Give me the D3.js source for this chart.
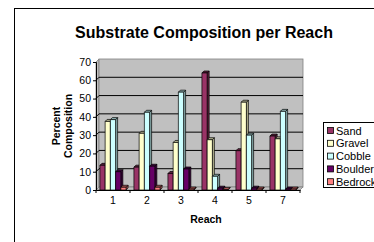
<!DOCTYPE html>
<html><head><meta charset="utf-8">
<script src="https://cdn.jsdelivr.net/npm/d3@7"></script>
<style>body{margin:0;background:#fff}svg{display:block;font-family:"Liberation Sans",Arial,sans-serif}</style>
</head><body><svg id="c" width="374" height="242"></svg>
<script>
const categories = ["1","2","3","4","5","7"];
const seriesNames = ["Sand","Gravel","Cobble","Boulder","Bedrock"];
const sand = [13.5,12.5,9,64,21.5,29.5];
const gravel = [37.5,31,26,27.5,48,28];
const cobble = [38.5,42.5,53.5,7.5,30,43];
const boulder = [10,13,11.5,1,1,0.5];
const bedrock = [1.5,1.5,0.5,0.3,0.5,0.5];
const yTicks = [0,10,20,30,40,50,60,70];
const colors = ["#993366","#FFFFCC","#CCFFFF","#660066","#FF8080"];
const sideColors = ["#5c1f3d","#b3b38f","#8fb3b3","#3d003d","#b35a5a"];
const values = [sand,gravel,cobble,boulder,bedrock];

const svg = d3.select("#c");
const x0 = 96, x1 = 300, yTop = 62, yBot = 190, wd = 3, bd = 2;
const x = d3.scaleBand().domain(categories).range([x0,x1]);
const xs = d3.scaleBand().domain(seriesNames).range([0,x.bandwidth()]).paddingInner(0).paddingOuter(0.75);
const y = d3.scaleLinear().domain([0,70]).range([yBot,yTop]);

// border
svg.append("rect").attr("x",14.5).attr("y",8.5).attr("width",400).attr("height",300)
  .attr("fill","none").attr("stroke","#000");

// walls
svg.append("polygon").attr("points",[[x0,yTop],[x0+wd,yTop-wd],[x0+wd,yBot-wd],[x0,yBot]].join(" "))
  .attr("fill","#c0c0c0").attr("stroke","#808080").attr("stroke-width",0.8);
svg.append("rect").attr("x",x0+wd).attr("y",yTop-wd).attr("width",x1-x0).attr("height",yBot-yTop)
  .attr("fill","#c0c0c0").attr("stroke","#808080").attr("stroke-width",0.8);
svg.append("polygon").attr("points",[[x0,yBot],[x1,yBot],[x1+wd,yBot-wd],[x0+wd,yBot-wd]].join(" "))
  .attr("fill","#c0c0c0").attr("stroke","#808080").attr("stroke-width",0.8);

// gridlines
yTicks.filter(v=>v>0 && v<70).forEach(v=>{
  svg.append("line").attr("x1",x0+wd).attr("x2",x1+wd).attr("y1",y(v)-wd).attr("y2",y(v)-wd).attr("stroke","#000").attr("stroke-width",1);
  svg.append("line").attr("x1",x0).attr("x2",x0+wd).attr("y1",y(v)).attr("y2",y(v)-wd).attr("stroke","#000").attr("stroke-width",1);
});

// bars
categories.forEach((c,ci)=>{
  seriesNames.forEach((s,si)=>{
    const v = values[si][ci];
    const bx = x(c)+xs(s), w = xs.bandwidth(), ty = y(v), by = y(0);
    const g = svg.append("g").attr("stroke","#000").attr("stroke-width",0.7).attr("stroke-linejoin","round");
    g.append("polygon").attr("points",[[bx+w,ty],[bx+w+bd,ty-bd],[bx+w+bd,by-bd],[bx+w,by]].join(" ")).attr("fill",sideColors[si]);
    g.append("polygon").attr("points",[[bx,ty],[bx+bd,ty-bd],[bx+w+bd,ty-bd],[bx+w,ty]].join(" ")).attr("fill",sideColors[si]);
    g.append("rect").attr("x",bx).attr("y",ty).attr("width",w).attr("height",by-ty).attr("fill",colors[si]);
  });
});

// y axis
const ya = svg.append("g").attr("transform",`translate(${x0},0)`)
  .call(d3.axisLeft(y).tickValues(yTicks).tickSize(3).tickPadding(2));
ya.select(".domain").attr("stroke","#000");
ya.selectAll("text").attr("font-size",10.5).attr("fill","#000").attr("font-family","Liberation Sans, Arial, sans-serif");
// x axis
const xa = svg.append("g").attr("transform",`translate(0,${yBot})`)
  .call(d3.axisBottom(x).tickSize(0).tickPadding(7));
xa.select(".domain").attr("stroke","#000");
xa.selectAll("text").attr("font-size",10.5).attr("fill","#000").attr("font-family","Liberation Sans, Arial, sans-serif");
categories.forEach(c=>{
  const bx = x(c)+x.bandwidth();
  svg.append("line").attr("x1",bx).attr("x2",bx).attr("y1",yBot).attr("y2",yBot+3).attr("stroke","#000");
});
svg.append("line").attr("x1",x0).attr("x2",x0).attr("y1",yBot).attr("y2",yBot+3).attr("stroke","#000");

// titles
svg.append("text").attr("x",204).attr("y",38).attr("text-anchor","middle").attr("font-weight","bold").attr("font-size",16).text("Substrate Composition per Reach");
svg.append("text").attr("x",206).attr("y",223).attr("text-anchor","middle").attr("font-weight","bold").attr("font-size",10.5).text("Reach");
const yt = svg.append("text").attr("transform","translate(60,126) rotate(-90)").attr("text-anchor","middle").attr("font-weight","bold").attr("font-size",10.5);
yt.append("tspan").attr("x",0).attr("y",0).text("Percent");
yt.append("tspan").attr("x",0).attr("y",12).text("Composition");

// legend
const lg = svg.append("g").attr("transform","translate(323,122)");
lg.append("rect").attr("x",0.5).attr("y",0.5).attr("width",70).attr("height",65).attr("fill","#fff").attr("stroke","#000");
seriesNames.forEach((s,i)=>{
  lg.append("rect").attr("x",4.5).attr("y",5.5+i*12.8).attr("width",6).attr("height",6).attr("fill",colors[i]).attr("stroke","#000").attr("stroke-width",0.8);
  lg.append("text").attr("x",13).attr("y",12.5+i*12.8).attr("font-size",11).text(s);
});
</script></body></html>
